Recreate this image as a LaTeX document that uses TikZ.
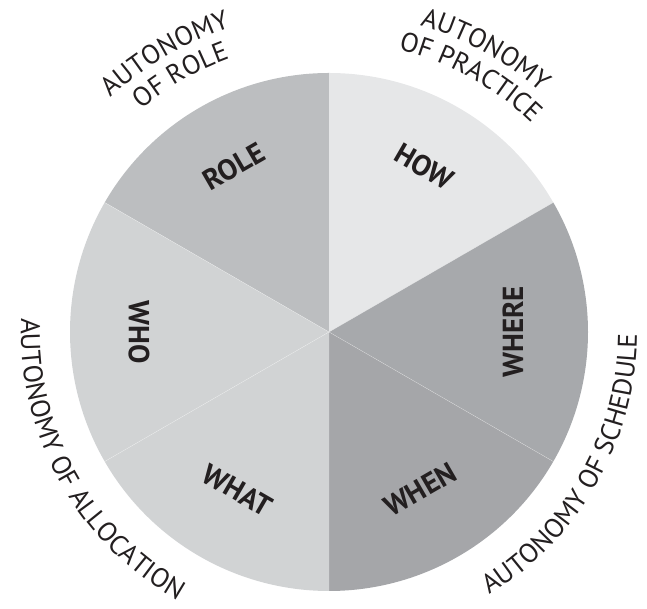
\documentclass[tikz,border=0pt]{standalone}
\usepackage{fontspec}
\setmainfont{PT Sans}
\usetikzlibrary{decorations.text}
\definecolor{gA}{HTML}{BCBEC0}
\definecolor{gB}{HTML}{E6E7E8}
\definecolor{gC}{HTML}{A7A9AC}
\definecolor{gD}{HTML}{A5A6A9}
\definecolor{gE}{HTML}{D1D3D4}
\definecolor{gF}{HTML}{D1D3D4}
\definecolor{txt}{HTML}{231F20}
\newcommand{\outerfont}{\fontsize{27}{30}\selectfont\color{txt}}
\tikzset{
  lbl/.style={font=\fontsize{29}{32}\selectfont\bfseries, text=txt, inner sep=0pt},
  divider/.style={draw=white, line width=0.4pt, opacity=0.45},
  arctext/.style={decorate, decoration={text along path, text align=center, text={|\outerfont|#1}}}
}
\begin{document}
\begin{tikzpicture}[x=1pt,y=1pt]
\useasboundingbox (0,0) rectangle (647,609);
\coordinate (c) at (329,277);
\def\R{259}
% sectors
\fill[gA] (c) -- ++(90:\R) arc[start angle=90,end angle=150,radius=\R] -- cycle;
\fill[gB] (c) -- ++(30:\R) arc[start angle=30,end angle=90,radius=\R] -- cycle;
\fill[gC] (c) -- ++(-30:\R) arc[start angle=-30,end angle=30,radius=\R] -- cycle;
\fill[gD] (c) -- ++(-90:\R) arc[start angle=-90,end angle=-30,radius=\R] -- cycle;
\fill[gE] (c) -- ++(210:\R) arc[start angle=210,end angle=270,radius=\R] -- cycle;
\fill[gF] (c) -- ++(150:\R) arc[start angle=150,end angle=210,radius=\R] -- cycle;
% dividers
\foreach \a in {-30,30,150,210} \draw[divider] (c) -- ++(\a:\R);
% sector labels
\node[lbl, rotate=30]  (role)  at ([shift={(120:191)}]c) {ROLE};
\node[lbl, rotate=-30] (how)   at ([shift={(60:191)}]c)  {HOW};
\node[lbl, rotate=90]  (where) at ([shift={(0:184)}]c)   {WHERE};
\node[lbl, rotate=30]  (when)  at ([shift={(-60:182)}]c) {WHEN};
\node[lbl, rotate=-30] (what)  at ([shift={(240:183)}]c) {WHAT};
\node[lbl, rotate=-90] (who)   at ([shift={(180:190)}]c) {WHO};
% outer curved labels
\path[arctext={AUTONOMY}]   ([shift={(150:320)}]c) arc[start angle=150,end angle=91,radius=320];
\path[arctext={OF ROLE}]    ([shift={(150:291)}]c) arc[start angle=150,end angle=90,radius=291];
\path[arctext={AUTONOMY}]   ([shift={(92:320)}]c) arc[start angle=92,end angle=30,radius=320];
\path[arctext={OF PRACTICE}] ([shift={(93:291)}]c) arc[start angle=93,end angle=29,radius=291];
\path[arctext={AUTONOMY OF SCHEDULE}] ([shift={(-70:308)}]c) arc[start angle=-70,end angle=11,radius=308];
\path[arctext={AUTONOMY OF ALLOCATION}] ([shift={(168:308)}]c) arc[start angle=168,end angle=250,radius=308];
\end{tikzpicture}
\end{document}
